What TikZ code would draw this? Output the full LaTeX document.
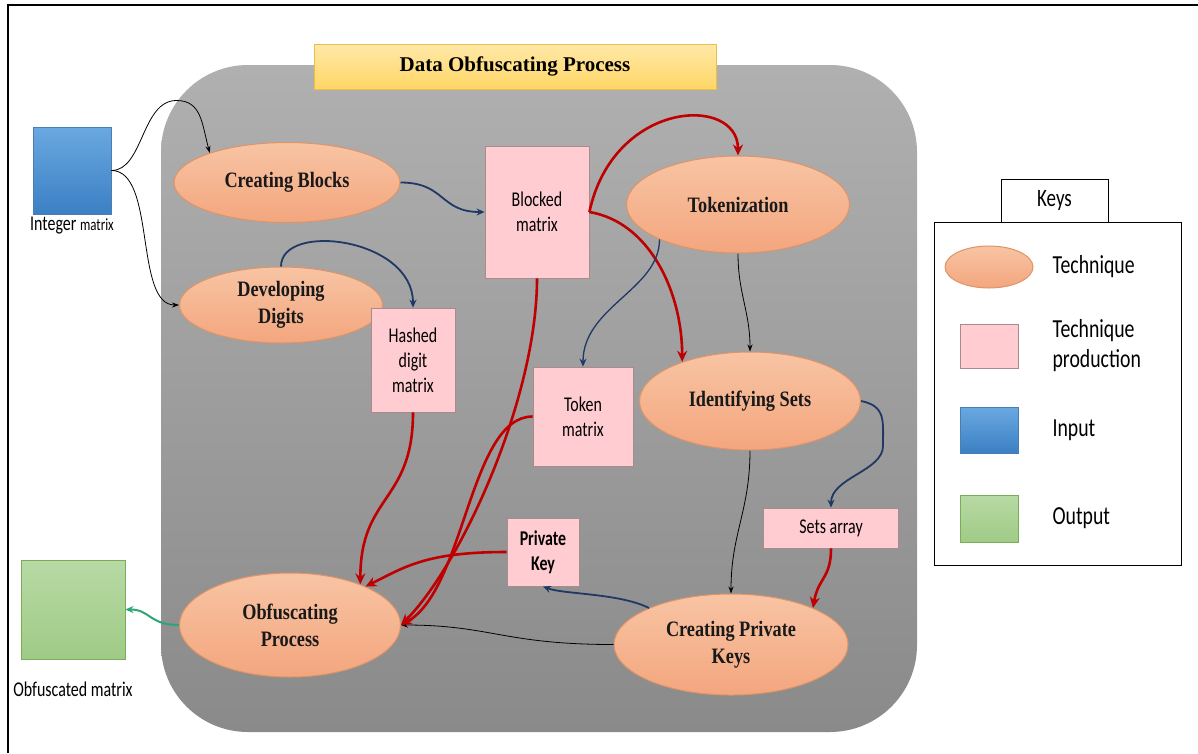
\documentclass[tikz,border=0pt]{standalone}
\usepackage{fontspec}
\setmainfont{Liberation Serif}
\newfontfamily\serifc[FakeStretch=0.83]{Liberation Serif}
\newfontfamily\sansc[FakeStretch=0.76]{Carlito}
\usetikzlibrary{arrows.meta,shapes.geometric,positioning}

\definecolor{techtop}{HTML}{F8C4A4}
\definecolor{techbot}{HTML}{F3A67E}
\definecolor{techline}{HTML}{DE9467}
\definecolor{prodfill}{HTML}{FFCDD1}
\definecolor{prodline}{HTML}{A88C8C}
\definecolor{intop}{HTML}{6AA8E0}
\definecolor{inbot}{HTML}{3B80C4}
\definecolor{inline}{HTML}{4A7EB2}
\definecolor{outtop}{HTML}{B8D9A4}
\definecolor{outbot}{HTML}{9FCB86}
\definecolor{outline}{HTML}{78AD5A}
\definecolor{regtop}{HTML}{B0B0B0}
\definecolor{regbot}{HTML}{8A8A8A}
\definecolor{ttltop}{HTML}{FFE9A8}
\definecolor{ttlbot}{HTML}{FFD666}
\definecolor{ttlline}{HTML}{EDBE45}
\definecolor{navy}{HTML}{203864}
\definecolor{darkred}{HTML}{C00000}
\definecolor{outgreen}{HTML}{2BA774}

\begin{document}
\begin{tikzpicture}[x=1pt, y=-1pt,
    tech/.style={ellipse, draw=techline, line width=1pt, top color=techtop, bottom color=techbot, inner sep=0pt, align=center, text=black!90, font=\serifc\bfseries\fontsize{22}{27}\selectfont},
    prod/.style={rectangle, draw=prodline, line width=0.8pt, fill=prodfill, inner sep=0pt, align=center, font=\sansc\fontsize{21}{25}\selectfont},
    inbox/.style={rectangle, draw=inline, line width=0.8pt, top color=intop, bottom color=inbot, inner sep=0pt},
    outbox/.style={rectangle, draw=outline, line width=0.8pt, top color=outtop, bottom color=outbot, inner sep=0pt},
    lbl/.style={inner sep=0pt, font=\sansc\fontsize{21}{25}\selectfont},
    keytxt/.style={inner sep=0pt, align=left, font=\sansc\fontsize{26}{30}\selectfont},
    flowk/.style={draw=black, line width=0.8pt, -{Stealth[length=7pt,width=5pt]}},
    flowb/.style={draw=navy, line width=1.8pt, -{Stealth[length=8pt,width=7pt]}},
    flowr/.style={draw=darkred, line width=2.6pt, -{Stealth[length=11pt,width=10pt]}},
    flowg/.style={draw=outgreen, line width=2pt, -{Stealth[length=8pt,width=7pt]}}]
    \useasboundingbox (0,0) rectangle (1198,753);
    \draw[line width=2pt] (8,753) -- (8,5) -- (1198,5);
    \shade[top color=regtop, bottom color=regbot, rounded corners=87pt] (161,65) rectangle (917,732);
    \node[draw=ttlline, line width=1pt, top color=ttltop, bottom color=ttlbot, minimum width=402pt, minimum height=45pt, inner sep=0pt, font=\bfseries\fontsize{21}{25}\selectfont] (ttl) at (515,66.5) {Data Obfuscating Process};

    \node[inbox, minimum width=78pt, minimum height=87pt] (inmat) at (72,170.5) {};
    \node[lbl, below=2pt of inmat] (inlbl) {Integer {\fontsize{17}{20}\selectfont matrix}};
    \node[outbox, minimum width=104pt, minimum height=99pt] (outmat) at (73,609.5) {};
    \node[lbl, below=22pt of outmat] (outlbl) {Obfuscated matrix};

    \node[tech, minimum width=226pt, minimum height=80pt] (cb) at (287,182.5) {Creating Blocks};
    \node[tech, minimum width=203pt, minimum height=76pt] (dd) at (281,305) {Developing\\Digits};
    \node[tech, minimum width=223pt, minimum height=97pt] (tok) at (738,204.5) {Tokenization};
    \node[tech, minimum width=221pt, minimum height=98pt] (ids) at (750,401) {Identifying Sets};
    \node[tech, minimum width=234pt, minimum height=101pt] (cpk) at (731,644.5) {Creating Private\\Keys};
    \node[tech, minimum width=221pt, minimum height=104pt] (obf) at (290,625) {Obfuscating\\Process};

    \node[prod, minimum width=104pt, minimum height=132pt] (blk) at (537,212) {Blocked\\matrix};
    \node[prod, minimum width=84pt, minimum height=104pt] (hdm) at (413,360) {Hashed\\digit\\matrix};
    \node[prod, minimum width=100pt, minimum height=99pt] (tkm) at (583,416.5) {Token\\matrix};
    \node[prod, minimum width=135pt, minimum height=40pt] (sar) at (831,528) {Sets array};
    \node[prod, minimum width=72pt, minimum height=68pt, font=\sansc\bfseries\fontsize{21}{25}\selectfont] (pkey) at (543,552) {Private\\Key};

    \node[draw, line width=0.8pt, minimum width=107pt, minimum height=43pt, inner sep=0pt, font=\sansc\fontsize{25}{30}\selectfont] (keytab) at (1054.5,200.5) {Keys};
    \node[draw, line width=1pt, minimum width=247pt, minimum height=343pt, inner sep=0pt] (keybox) at (1057.5,393.5) {};
    \node[tech, minimum width=88pt, minimum height=42pt] (kt) at (989,267) {};
    \node[prod, minimum width=58pt, minimum height=44pt] (kp) at (989,346) {};
    \node[inbox, minimum width=58pt, minimum height=46pt] (ki) at (989,430) {};
    \node[outbox, minimum width=58pt, minimum height=47pt] (ko) at (989,518.5) {};
    \node[keytxt, right=19pt of kt] (ktl) {Technique};
    \node[keytxt, right=34pt of kp] (kpl) {Technique\\production};
    \node[keytxt, right=34pt of ki] (kil) {Input};
    \node[keytxt, right=34pt of ko] (kol) {Output};

    \draw[flowk] (inmat.east) .. controls +(32,0) and +(-35,0) .. ++(65,-70) .. controls +(25,0) and +(-8,-30) .. (cb.159);
    \draw[flowk] (inmat.east) .. controls +(45,0) and +(-45,0) .. (dd.west);
    \draw[flowb] (cb.east) .. controls +(45,0) and +(-45,0) .. (blk.west);
    \draw[flowb] (dd.north) .. controls +(0,-45) and +(0,-70) .. (hdm.north);
    \draw[flowr] (blk.east) .. controls +(24,-112) and +(0,-61) .. (tok.north);
    \draw[flowr] (blk.east) .. controls +(60,10) and +(0,-70) .. (ids.150);
    \draw[flowb, line width=1.3pt] (tok.204) .. controls +(0,50) and +(0,-60) .. (tkm.north);
    \draw[flowk] (tok.south) .. controls +(0,40) and +(0,-40) .. (ids.north);
    \draw[flowb] (ids.east) .. controls +(25,5) and +(0,-25) .. ++(22,45) .. controls +(0,25) and +(0,-30) .. (sar.north);
    \draw[flowk] (ids.south) .. controls +(0,60) and +(0,-60) .. (cpk.north);
    \draw[flowr] (sar.south) .. controls +(0,30) and +(5,-30) .. (cpk.24);
    \draw[flowb] (cpk.156) .. controls +(-30,-15) and +(20,8) .. (pkey.south);
    \draw[flowk] (cpk.west) .. controls +(-110,0) and +(90,0) .. (obf.east);
    \draw[flowr] (pkey.west) .. controls +(-80,0) and +(40,-20) .. (obf.27);
    \draw[flowr] (hdm.south) .. controls +(0,90) and +(0,-90) .. (obf.30);
    \draw[flowr] (blk.south) .. controls +(0,120) and +(60,-60) .. (obf.east);
    \draw[flowr] (tkm.west) .. controls +(-63,0) and +(64,-35) .. (obf.east);
    \draw[flowg] (obf.west) .. controls +(-30,0) and +(25,0) .. (outmat.east);
\end{tikzpicture}
\end{document}
